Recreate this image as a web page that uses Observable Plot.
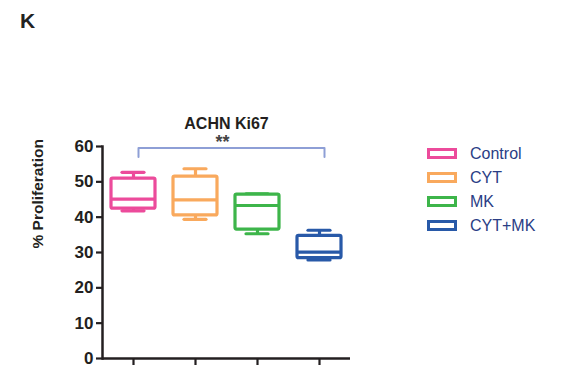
<!DOCTYPE html>
<html>
<head>
<meta charset="utf-8">
<script src="https://cdn.jsdelivr.net/npm/d3@7"></script>
<script src="https://cdn.jsdelivr.net/npm/@observablehq/plot@0.6"></script>
<style>
  body { margin: 0; background: #fff; font-family: "Liberation Sans", Arial, sans-serif; }
  #wrap { position: relative; width: 562px; height: 391px; overflow: hidden; }
  #panel { position: absolute; left: 20px; top: 9px; font-size: 21px; font-weight: bold; color: #222; }
  .legend { position: absolute; left: 427px; top: 0; }
  .row { position: absolute; left: 0; display: flex; align-items: center; white-space: nowrap; }
  .sw { width: 30px; height: 11px; box-sizing: border-box; border: 3px solid; background: #fff; }
  .lab { margin-left: 13px; font-size: 16px; color: #2a3d85; }
</style>
</head>
<body>
<div id="wrap">
  <div id="panel">K</div>
  <div id="chart"></div>
  <div class="legend" id="legend"></div>
</div>
<script>
// Groups and box-plot summaries (% proliferation, ACHN Ki67)
const groups     = ["Control", "CYT", "MK", "CYT+MK"];
const colors     = ["#ec4b9b", "#f9a95d", "#3db54a", "#2859a8"];
const whiskerMin = [41.8, 39.4, 35.3, 27.9];
const q1         = [42.4, 40.5, 36.5, 28.4];
const median     = [45.1, 44.9, 43.3, 30.1];
const q3         = [50.9, 51.5, 46.4, 34.7];
const whiskerMax = [52.7, 53.7, 46.6, 36.3];
const yTicks     = [0, 10, 20, 30, 40, 50, 60];

// Significance bracket between Control and CYT+MK
const bracketGroups = ["Control", "Control", "CYT+MK", "CYT+MK"];
const bracketLevels = [57, 59.6, 59.6, 57];
const significance  = "**";

const boxes = groups.map((g, i) => ({
  group: g, min: whiskerMin[i], q1: q1[i], median: median[i], q3: q3[i], max: whiskerMax[i]
}));
const bracket = bracketGroups.map((g, i) => ({group: g, v: bracketLevels[i]}));

const ink = "#231f20";
const sw = 3.2;

const chart = Plot.plot({
  width: 562,
  height: 391,
  marginLeft: 102,
  marginRight: 212,
  marginTop: 146,
  marginBottom: 33,
  style: {fontFamily: "'Liberation Sans', Arial, sans-serif", background: "transparent"},
  x: {type: "band", domain: groups, padding: 0, axis: null},
  y: {domain: [0, 60], axis: null},
  color: {domain: groups, range: colors},
  marks: [
    // axes
    Plot.frame({anchor: "left", stroke: ink, strokeWidth: 2.5}),
    Plot.ruleY([0], {stroke: ink, strokeWidth: 2.5}),
    Plot.axisY({ticks: yTicks, tickSize: 6, tickPadding: 3, stroke: ink, strokeWidth: 2.2,
                fontSize: 17, fontWeight: "bold", fill: ink, label: null}),
    Plot.axisX({tickSize: 7, tickFormat: () => "", stroke: ink, strokeWidth: 2.2, label: null}),
    // whiskers
    Plot.ruleX(boxes, {x: "group", y1: "q3", y2: "max", stroke: "group", strokeWidth: sw}),
    Plot.ruleX(boxes, {x: "group", y1: "min", y2: "q1", stroke: "group", strokeWidth: sw}),
    Plot.tickY(boxes, {x: "group", y: "max", stroke: "group", strokeWidth: sw, strokeLinecap: "round", insetLeft: 20, insetRight: 20}),
    Plot.tickY(boxes, {x: "group", y: "min", stroke: "group", strokeWidth: sw, strokeLinecap: "round", insetLeft: 20, insetRight: 20}),
    // boxes and medians
    Plot.barY(boxes, {x: "group", y1: "q1", y2: "q3", fill: "white", stroke: "group", strokeWidth: sw,
                      strokeLinejoin: "round", insetLeft: 9, insetRight: 9, rx: 1.5}),
    Plot.tickY(boxes, {x: "group", y: "median", stroke: "group", strokeWidth: sw, insetLeft: 9, insetRight: 9}),
    // significance bracket
    Plot.line(bracket, {x: "group", y: "v", stroke: "#8e9fd6", strokeWidth: 2, dx: 5}),
    Plot.text([significance], {frameAnchor: "top", dx: -4, dy: -11, fontSize: 18, fontWeight: "bold", fill: "#444"}),
    // title and y label
    Plot.text(["ACHN Ki67"], {frameAnchor: "top", dy: -29, fontSize: 16, fontWeight: "bold", fill: ink}),
    Plot.text(["% Proliferation"], {frameAnchor: "left", rotate: -90, dx: -64, dy: -4, fontSize: 15.5, fontWeight: "bold", fill: ink})
  ]
});
document.getElementById("chart").appendChild(chart);

// legend
const legend = document.getElementById("legend");
const rowTops = [148, 172, 196, 220];
groups.forEach((g, i) => {
  const row = document.createElement("div");
  row.className = "row";
  row.style.top = rowTops[i] + "px";
  row.style.height = "11px";
  const s = document.createElement("div");
  s.className = "sw";
  s.style.borderColor = colors[i];
  const t = document.createElement("span");
  t.className = "lab";
  t.textContent = g;
  row.appendChild(s);
  row.appendChild(t);
  legend.appendChild(row);
});
</script>
</body>
</html>
